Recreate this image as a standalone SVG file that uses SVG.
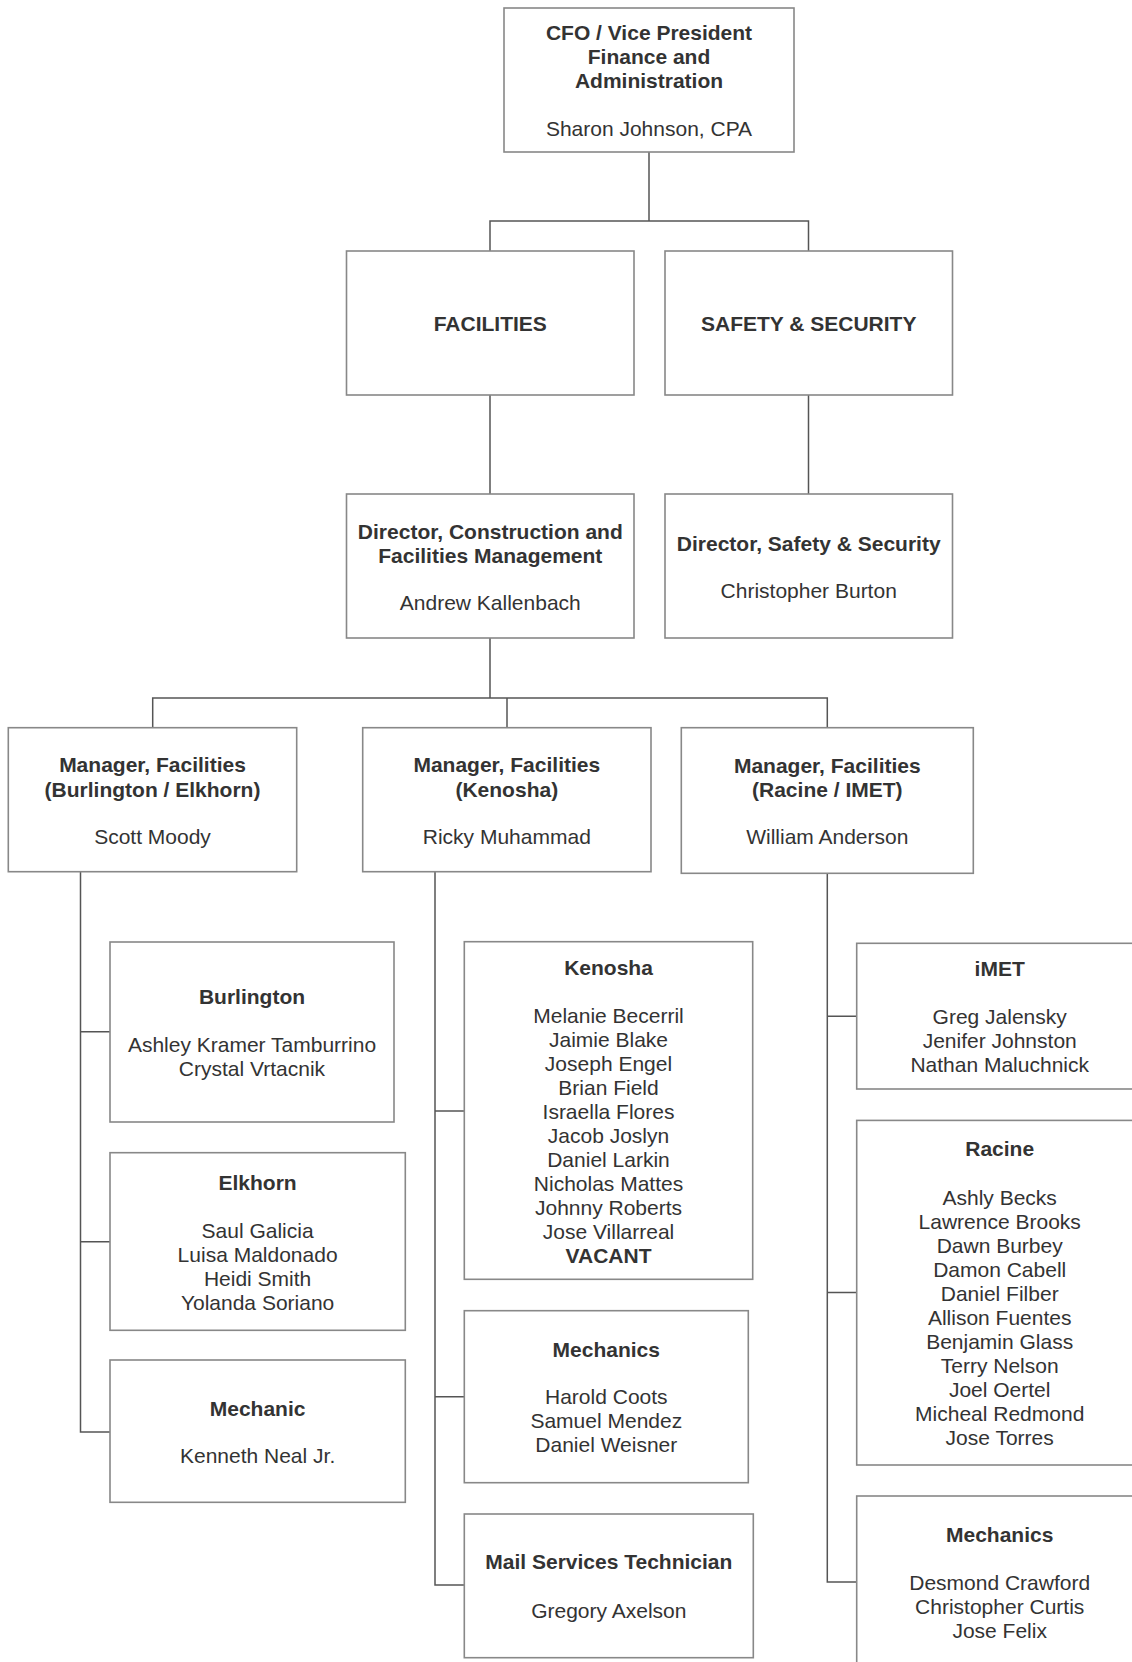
<svg xmlns="http://www.w3.org/2000/svg" width="1132" height="1662" viewBox="0 0 1132 1662">
<style>
.box{fill:#fff;stroke:#888;stroke-width:1.6}
.con{fill:none;stroke:#555;stroke-width:1.5}
text{font-family:"Liberation Sans",Arial,sans-serif;font-size:21px;fill:#333;text-anchor:middle}
.b{font-weight:bold}
</style>
<rect width="1132" height="1662" fill="#fff"/>
<g id="connectors">
<path class="con" d="M649 152V221M490 251V221H808.5V251"/>
<path class="con" d="M490 395V494M808.5 395V494"/>
<path class="con" d="M490 638V698M152.7 727.7V698H827.3V727.7M507 698V727.7"/>
<path class="con" d="M80.5 871.7V1432H110M80.5 1031.7H110M80.5 1241.7H110"/>
<path class="con" d="M435 871.7V1585H464.3M435 1111H464.3M435 1396.7H464.3"/>
<path class="con" d="M827.3 873.3V1582H856.7M827.3 1016.3H856.7M827.3 1292.5H856.7"/>
</g>
<g id="cfo">
<rect class="box" x="504" y="8" width="290" height="144"/>
<text class="b" x="649" y="39.5">CFO / Vice President</text>
<text class="b" x="649" y="63.5">Finance and</text>
<text class="b" x="649" y="87.5">Administration</text>
<text x="649" y="136">Sharon Johnson, CPA</text>
</g>
<g id="facilities">
<rect class="box" x="346.5" y="251" width="287.5" height="144"/>
<text class="b" x="490.3" y="331">FACILITIES</text>
</g>
<g id="safety">
<rect class="box" x="665" y="251" width="287.5" height="144"/>
<text class="b" x="808.7" y="331">SAFETY &amp; SECURITY</text>
</g>
<g id="dir-facilities">
<rect class="box" x="346.5" y="494" width="287.5" height="144"/>
<text class="b" x="490.3" y="538.5">Director, Construction and</text>
<text class="b" x="490.3" y="562.5">Facilities Management</text>
<text x="490.3" y="610">Andrew Kallenbach</text>
</g>
<g id="dir-safety">
<rect class="box" x="665" y="494" width="287.5" height="144"/>
<text class="b" x="808.7" y="551">Director, Safety &amp; Security</text>
<text x="808.7" y="598">Christopher Burton</text>
</g>
<g id="mgr-burlington">
<rect class="box" x="8.3" y="727.7" width="288.4" height="144"/>
<text class="b" x="152.5" y="772">Manager, Facilities</text>
<text class="b" x="152.5" y="796.5">(Burlington / Elkhorn)</text>
<text x="152.5" y="843.5">Scott Moody</text>
</g>
<g id="mgr-kenosha">
<rect class="box" x="362.7" y="727.7" width="288.3" height="144"/>
<text class="b" x="506.8" y="772">Manager, Facilities</text>
<text class="b" x="506.8" y="796.5">(Kenosha)</text>
<text x="506.8" y="843.5">Ricky Muhammad</text>
</g>
<g id="mgr-racine">
<rect class="box" x="681.3" y="727.7" width="292" height="145.6"/>
<text class="b" x="827.3" y="772.7">Manager, Facilities</text>
<text class="b" x="827.3" y="796.7">(Racine / IMET)</text>
<text x="827.3" y="844">William Anderson</text>
</g>
<g id="burlington">
<rect class="box" x="110" y="942" width="284" height="180"/>
<text class="b" x="252" y="1003.5">Burlington</text>
<text x="252" y="1051.7">Ashley Kramer Tamburrino</text>
<text x="252" y="1075.7">Crystal Vrtacnik</text>
</g>
<g id="elkhorn">
<rect class="box" x="110" y="1152.7" width="295.3" height="177.6"/>
<text class="b" x="257.6" y="1190">Elkhorn</text>
<text x="257.6" y="1237.7">Saul Galicia</text>
<text x="257.6" y="1261.7">Luisa Maldonado</text>
<text x="257.6" y="1285.7">Heidi Smith</text>
<text x="257.6" y="1309.7">Yolanda Soriano</text>
</g>
<g id="mechanic-left">
<rect class="box" x="110" y="1360" width="295.3" height="142.3"/>
<text class="b" x="257.6" y="1416">Mechanic</text>
<text x="257.6" y="1463.3">Kenneth Neal Jr.</text>
</g>
<g id="kenosha">
<rect class="box" x="464.3" y="941.7" width="288.4" height="337.6"/>
<text class="b" x="608.5" y="975">Kenosha</text>
<text x="608.5" y="1022.7">Melanie Becerril</text>
<text x="608.5" y="1046.7">Jaimie Blake</text>
<text x="608.5" y="1070.7">Joseph Engel</text>
<text x="608.5" y="1094.7">Brian Field</text>
<text x="608.5" y="1118.7">Israella Flores</text>
<text x="608.5" y="1142.7">Jacob Joslyn</text>
<text x="608.5" y="1166.7">Daniel Larkin</text>
<text x="608.5" y="1190.7">Nicholas Mattes</text>
<text x="608.5" y="1214.7">Johnny Roberts</text>
<text x="608.5" y="1238.7">Jose Villarreal</text>
<text class="b" x="608.5" y="1262.7">VACANT</text>
</g>
<g id="mechanics-kenosha">
<rect class="box" x="464.3" y="1310.7" width="284" height="172"/>
<text class="b" x="606.3" y="1356.7">Mechanics</text>
<text x="606.3" y="1404.3">Harold Coots</text>
<text x="606.3" y="1428.3">Samuel Mendez</text>
<text x="606.3" y="1452.3">Daniel Weisner</text>
</g>
<g id="mail">
<rect class="box" x="464.3" y="1514" width="289" height="143.7"/>
<text class="b" x="608.8" y="1569.3">Mail Services Technician</text>
<text x="608.8" y="1617.7">Gregory Axelson</text>
</g>
<g id="imet">
<rect class="box" x="856.7" y="943.3" width="286" height="145.7"/>
<text class="b" x="999.7" y="975.7">iMET</text>
<text x="999.7" y="1024">Greg Jalensky</text>
<text x="999.7" y="1048">Jenifer Johnston</text>
<text x="999.7" y="1072">Nathan Maluchnick</text>
</g>
<g id="racine">
<rect class="box" x="856.7" y="1120.4" width="286" height="344.6"/>
<text class="b" x="999.7" y="1155.6">Racine</text>
<text x="999.7" y="1204.7">Ashly Becks</text>
<text x="999.7" y="1228.7">Lawrence Brooks</text>
<text x="999.7" y="1252.7">Dawn Burbey</text>
<text x="999.7" y="1276.7">Damon Cabell</text>
<text x="999.7" y="1300.7">Daniel Filber</text>
<text x="999.7" y="1324.7">Allison Fuentes</text>
<text x="999.7" y="1348.7">Benjamin Glass</text>
<text x="999.7" y="1372.7">Terry Nelson</text>
<text x="999.7" y="1396.7">Joel Oertel</text>
<text x="999.7" y="1420.7">Micheal Redmond</text>
<text x="999.7" y="1444.7">Jose Torres</text>
</g>
<g id="mechanics-racine">
<rect class="box" x="856.7" y="1496" width="286" height="200"/>
<text class="b" x="999.7" y="1541.6">Mechanics</text>
<text x="999.7" y="1589.5">Desmond Crawford</text>
<text x="999.7" y="1613.5">Christopher Curtis</text>
<text x="999.7" y="1637.5">Jose Felix</text>
</g>
</svg>
